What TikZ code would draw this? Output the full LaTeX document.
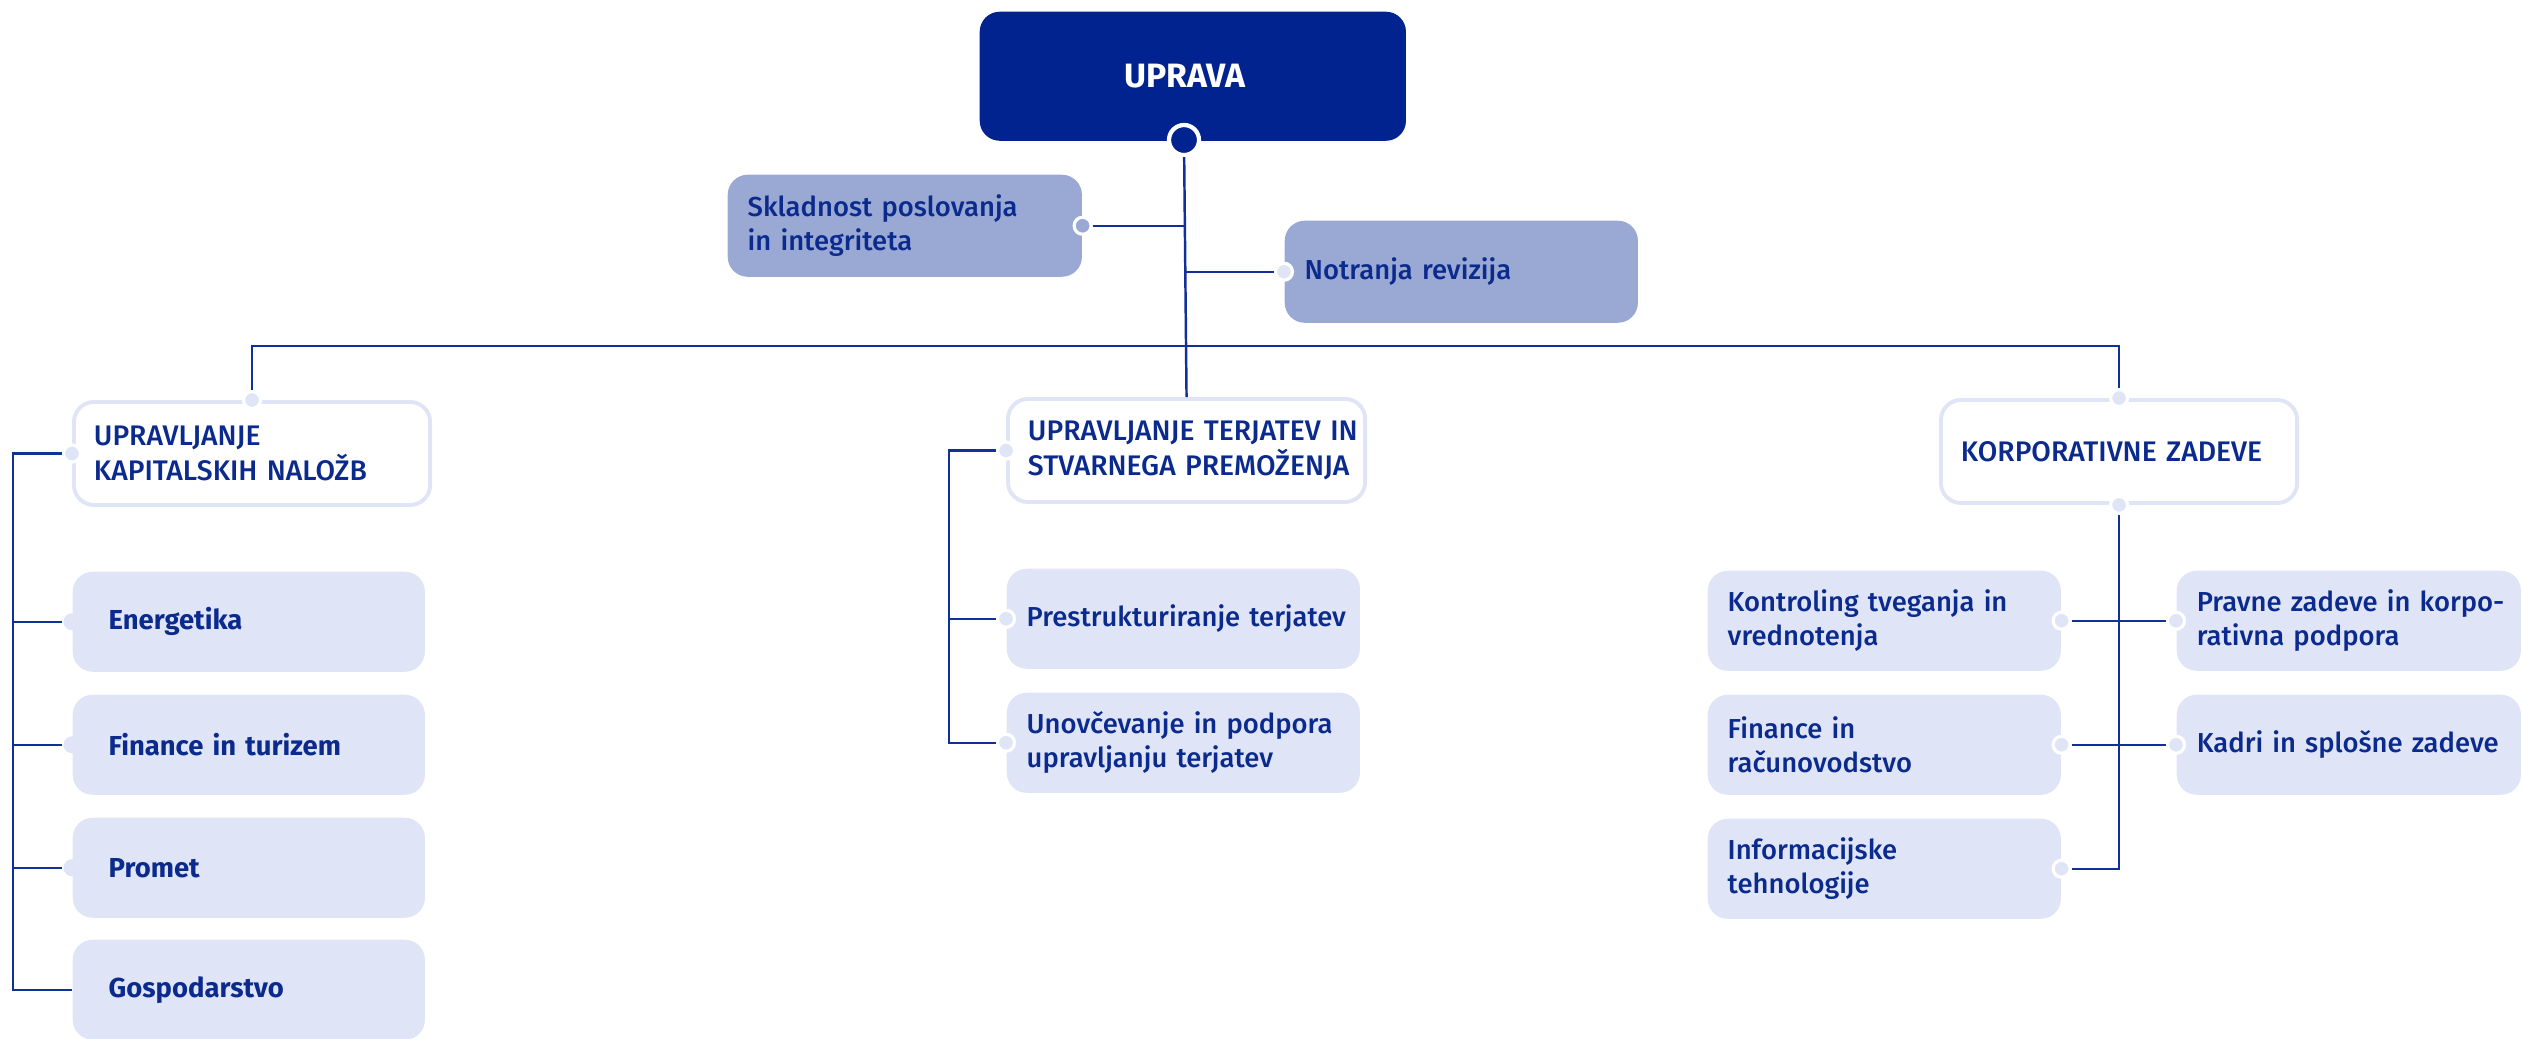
\documentclass[tikz,border=0pt]{standalone}
\usepackage{fontspec}
\setmainfont{Fira Sans}[UprightFont=* Medium, BoldFont=* Bold]
\usepackage{tikz}
\usetikzlibrary{positioning,calc}
\definecolor{navy}{HTML}{00238F}
\definecolor{ink}{HTML}{0B2A8E}
\definecolor{midblue}{HTML}{9AA9D3}
\definecolor{pale}{HTML}{DFE5F6}
\definecolor{wire}{HTML}{12309A}

\begin{document}
\begin{tikzpicture}[
x=0.01cm, y=-0.01cm,
Wires/.style={draw=wire, line width=0.7pt},
AnyBox/.style={rectangle, rounded corners=0.2cm, anchor=north west, inner xsep=0.2cm, inner ysep=0pt,
  align=left, text=ink, font=\fontsize{7.8}{9.6}\selectfont},
TopBox/.style={AnyBox, fill=navy, text=white, align=center, minimum width=4.26cm, minimum height=1.29cm,
  font=\fontsize{9.6}{11}\selectfont\bfseries},
StaffBox/.style={AnyBox, fill=midblue, minimum height=1.02cm},
HeadBox/.style={AnyBox, fill=white, draw=pale, line width=1.1pt, minimum width=3.56cm, minimum height=1.03cm,
  font=\fontsize{8.05}{9.8}\selectfont},
SubBox/.style={AnyBox, fill=pale, minimum width=3.53cm, minimum height=1cm},
Dots/.style={circle, fill=pale, draw=white, line width=0.9pt, inner sep=0pt, minimum size=0.17cm},
TopDot/.style={Dots, fill=navy, line width=1.2pt, minimum size=0.3cm}
]
\useasboundingbox (0,0) rectangle (2522,1038);

% uprava in stabni oddelki
\node[TopBox] (upr) at (979,11) {UPRAVA\hspace*{0.16cm}};
\node[StaffBox, minimum width=3.54cm, text width=3.14cm] (skl) at (727,174) {Skladnost poslovanja\\in integriteta};
\node[StaffBox, minimum width=3.53cm, text width=3.13cm] (rev) at (1284,220) {Notranja revizija};

% sektorji
\node[HeadBox, text width=3.16cm] (kap) at (72,400) {UPRAVLJANJE\\\mbox{KAPITALSKIH NALOŽB}};
\node[HeadBox, text width=3.17cm] (ter) at (1006,397) {\mbox{UPRAVLJANJE TERJATEV IN}\\\mbox{STVARNEGA PREMOŽENJA}};
\node[HeadBox, text width=3.16cm] (kor) at (1939,398) {\mbox{KORPORATIVNE ZADEVE}};

% oddelki
\foreach \nm/\yy/\txt in {ene/571/Energetika, fin/694/Finance in turizem, pro/817/Promet, gos/939/Gospodarstvo}
  \node[SubBox, minimum width=3.52cm, inner xsep=0.36cm, text width=2.8cm,
    font=\fontsize{7.8}{9.6}\selectfont\bfseries] (\nm) at (72,\yy) {\txt};

\node[SubBox, text width=3.13cm] (pre) at (1006,568) {\mbox{Prestrukturiranje terjatev}};
\node[SubBox, text width=3.13cm] (unv) at (1006,692) {\mbox{Unovčevanje in podpora}\\upravljanju terjatev};

\node[SubBox, text width=3.13cm] (kon) at (1707,570) {\mbox{Kontroling tveganja in}\\vrednotenja};
\node[SubBox, text width=3.13cm] (fir) at (1707,694) {Finance in\\računovodstvo};
\node[SubBox, text width=3.13cm] (inf) at (1707,818) {Informacijske\\tehnologije};
\node[SubBox, minimum width=3.44cm, text width=3.04cm] (pra) at (2176,570) {\mbox{Pravne zadeve in korpo-}\\rativna podpora};
\node[SubBox, minimum width=3.44cm, text width=3.04cm] (kad) at (2176,694) {\mbox{Kadri in splošne zadeve}};

% prikljucki
\node[TopDot] (uprDot) at (1184,140) {};
\node[Dots, fill=midblue] (sklDot) at (skl.east) {};
\node[Dots] (revDot) at (rev.west) {};
\node[Dots] (kapTop) at (kap.north) {};
\node[Dots] (kapLeft) at (kap.west) {};
\node[Dots] (terLeft) at (ter.west) {};
\node[Dots] (korTop) at (kor.north) {};
\node[Dots] (korBot) at (kor.south) {};
\foreach \nm in {ene,fin,pro}
  \node[Dots, draw=none] (\nm Dot) at (\nm.west) {};
\foreach \nm in {pre,unv,pra,kad}
  \node[Dots] (\nm Dot) at (\nm.west) {};
\foreach \nm in {kon,fir,inf}
  \node[Dots] (\nm Dot) at (\nm.east) {};

% povezave
\coordinate (bus) at (1184,346);
\coordinate (lSpine) at (13,0);
\coordinate (mSpine) at (949,0);

\draw[Wires] (uprDot) -- (ter.north);
\draw[Wires] (sklDot) -- (sklDot -| uprDot);
\draw[Wires] (revDot) -- (revDot -| uprDot);
\draw[Wires] (kapTop) |- (bus) -| (korTop);

\draw[Wires] (kapLeft) -- (kapLeft -| lSpine) |- (gos.west);
\foreach \nm in {ene,fin,pro}
  \draw[Wires] (\nm Dot -| lSpine) -- ([xshift=-0.1cm]\nm Dot.center);

\draw[Wires] (terLeft) -- (terLeft -| mSpine) |- (unvDot);
\draw[Wires] (preDot -| mSpine) -- (preDot);

\draw[Wires] (korBot) |- (infDot);
\draw[Wires] (konDot) -- (praDot);
\draw[Wires] (firDot) -- (kadDot);
\end{tikzpicture}
\end{document}
